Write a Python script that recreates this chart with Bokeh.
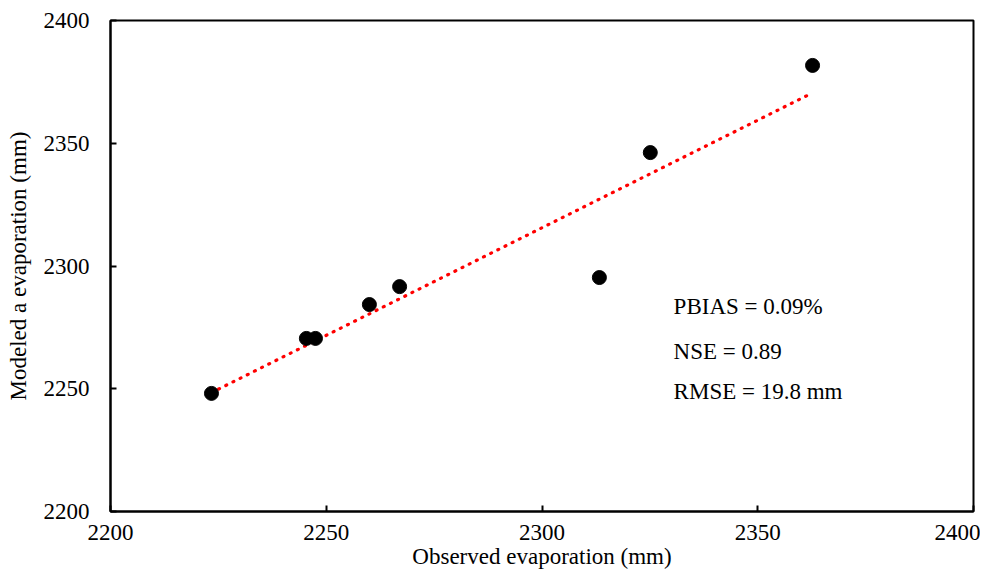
import numpy as np
from bokeh.plotting import figure
from bokeh.models import FixedTicker, Label, Range1d
from bokeh.embed import file_html
from bokeh.resources import INLINE

observed = [2223.4, 2245.4, 2247.5, 2260.0, 2267.0, 2313.3, 2325.1, 2362.7]
modeled = [2248.1, 2270.5, 2270.5, 2284.3, 2291.6, 2295.3, 2346.2, 2381.7]
ticks = [2200, 2250, 2300, 2350, 2400]
stats_text = ["PBIAS = 0.09%", "NSE = 0.89", "RMSE = 19.8 mm"]

FONT = "Liberation Serif"

p = figure(width=980, height=571, output_backend="svg", toolbar_location=None,
           x_range=Range1d(2200, 2400), y_range=Range1d(2200, 2400),
           min_border_left=110, min_border_right=7, min_border_top=20, min_border_bottom=60)
p.xgrid.visible = False
p.ygrid.visible = False
p.outline_line_color = "black"
p.outline_line_width = 2
p.background_fill_color = "white"
p.border_fill_color = "white"

for ax in (p.xaxis[0], p.yaxis[0]):
    ax.ticker = FixedTicker(ticks=ticks)
    ax.axis_line_color = "black"
    ax.axis_line_width = 2
    ax.major_tick_in = 6
    ax.major_tick_out = 0
    ax.major_tick_line_width = 2
    ax.minor_tick_line_color = None
    ax.major_label_text_font = FONT
    ax.major_label_text_font_size = "23px"
    ax.major_label_text_color = "black"
    ax.axis_label_text_font = FONT
    ax.axis_label_text_font_size = "23px"
    ax.axis_label_text_font_style = "normal"
    ax.axis_label_text_color = "black"

p.xaxis.axis_label = "Observed evaporation (mm)"
p.yaxis.axis_label = "Modeled a evaporation (mm)"
p.xaxis.major_label_standoff = 13
p.yaxis.major_label_standoff = 21
p.xaxis.axis_label_standoff = 1
p.yaxis.axis_label_standoff = 10

# trend line from least squares fit
obs = np.array(observed)
mod = np.array(modeled)
slope, intercept = np.polyfit(obs, mod, 1)
xl = [obs.min(), obs.max()]
yl = [slope * v + intercept for v in xl]
p.line(xl, yl, line_color="#ff0000", line_width=3.2, line_dash="1 7", line_cap="round")

p.scatter(observed, modeled, size=14, fill_color="black", line_color="black")

ys = [2283.3, 2265.0, 2248.7]
for t, yv in zip(stats_text, ys):
    p.add_layout(Label(x=2330.5, y=yv, text=t, text_font=FONT, text_font_size="23px",
                       text_color="black", text_baseline="alphabetic"))

open("out.html", "w").write(file_html(p, INLINE))
